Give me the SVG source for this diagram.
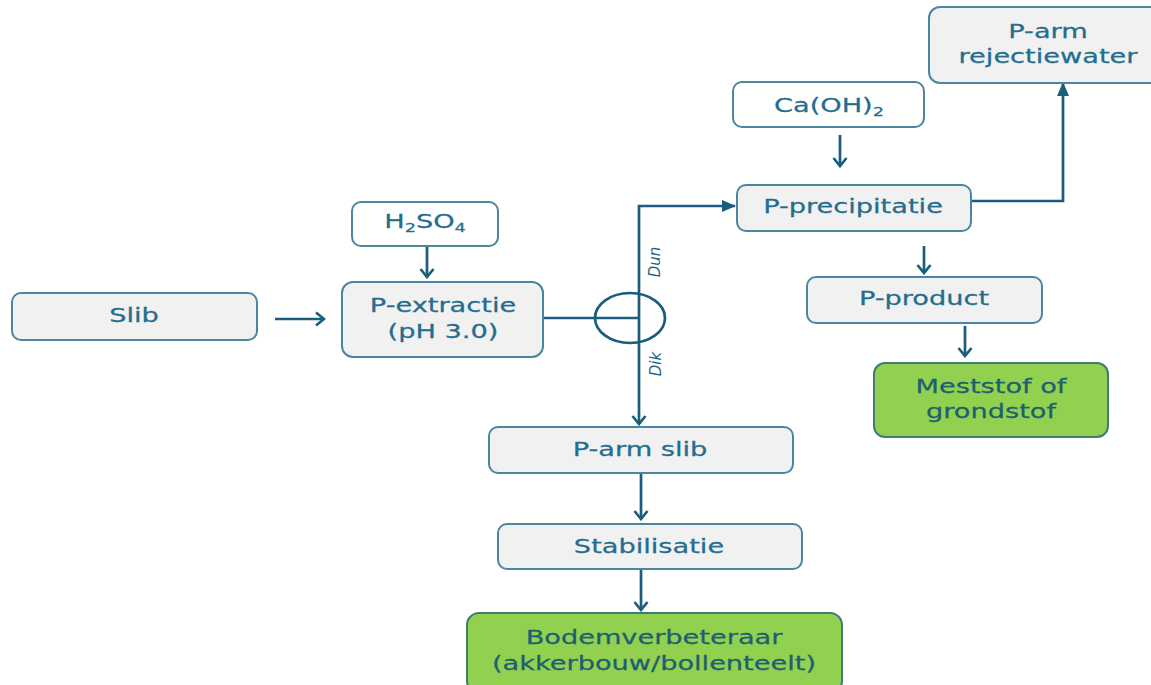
<svg xmlns="http://www.w3.org/2000/svg" width="1151" height="685" viewBox="0 0 1151 685">
<style>
.box{fill:#f1f1f1;stroke:#4a86a0;stroke-width:2}
.wbox{fill:#ffffff;stroke:#4a86a0;stroke-width:2}
.gbox{fill:#92d050;stroke:#3d7d72;stroke-width:2}
.t{font-family:"DejaVu Sans","Liberation Sans",sans-serif;font-size:20px;fill:#236d8f;text-anchor:middle;stroke:#236d8f;stroke-width:0.25}
.tg{font-family:"DejaVu Sans","Liberation Sans",sans-serif;font-size:20px;fill:#1d5f70;text-anchor:middle;stroke:#1d5f70;stroke-width:0.25}
.lab{font-family:"DejaVu Sans","Liberation Sans",sans-serif;font-size:15px;font-style:italic;fill:#1d5f80;text-anchor:middle}
.ln{fill:none;stroke:#1a5d7c;stroke-width:2.7}
.sub{font-size:13px}
</style>
<defs>
<marker id="chev" viewBox="0 0 12 16" markerWidth="12" markerHeight="16" refX="10" refY="8" orient="auto" markerUnits="userSpaceOnUse">
<path d="M2,1.5 L10,8 L2,14.5" fill="none" stroke="#1a5d7c" stroke-width="2.7"/>
</marker>
<marker id="tri" viewBox="0 0 14 12" markerWidth="14" markerHeight="12" refX="13" refY="6" orient="auto" markerUnits="userSpaceOnUse">
<path d="M0,0 L14,6 L0,12 Z" fill="#1a5d7c"/>
</marker>
</defs>

<g id="connectors">
<line class="ln" x1="275" y1="319" x2="324" y2="319" marker-end="url(#chev)"/>
<line class="ln" x1="427" y1="246" x2="427" y2="277" marker-end="url(#chev)"/>
<line class="ln" x1="543" y1="318" x2="639" y2="318"/>
<ellipse class="ln" cx="630" cy="318" rx="35" ry="25"/>
<path class="ln" d="M639,318 V206 H735" marker-end="url(#tri)"/>
<path class="ln" d="M639,318 V424" marker-end="url(#chev)"/>
<line class="ln" x1="840" y1="135" x2="840" y2="166" marker-end="url(#chev)"/>
<path class="ln" d="M971,201 H1063 V83" marker-end="url(#tri)"/>
<line class="ln" x1="924" y1="246" x2="924" y2="273" marker-end="url(#chev)"/>
<line class="ln" x1="965" y1="326" x2="965" y2="356" marker-end="url(#chev)"/>
<line class="ln" x1="641" y1="473" x2="641" y2="519" marker-end="url(#chev)"/>
<line class="ln" x1="641" y1="569" x2="641" y2="610" marker-end="url(#chev)"/>
<text class="lab" transform="translate(660,262) rotate(-90)">Dun</text>
<text class="lab" transform="translate(661,364) rotate(-90)">Dik</text>
</g>

<g id="slib">
<rect class="box" x="12" y="293" width="245" height="47" rx="9"/>
<text class="t" transform="translate(134,322) scale(1.36,1)">Slib</text>
</g>
<g id="h2so4">
<rect class="wbox" x="352" y="202" width="146" height="44" rx="9"/>
<text class="t" transform="translate(425,228) scale(1.36,1)">H<tspan class="sub" dy="4">2</tspan><tspan dy="-4">SO</tspan><tspan class="sub" dy="4">4</tspan></text>
</g>
<g id="p-extractie">
<rect class="box" x="342" y="282" width="201" height="75" rx="11"/>
<text class="t" transform="translate(443,312) scale(1.36,1)">P-extractie</text>
<text class="t" transform="translate(443,338) scale(1.36,1)">(pH 3.0)</text>
</g>
<g id="caoh2">
<rect class="wbox" x="733" y="82" width="191" height="45" rx="9"/>
<text class="t" transform="translate(829,112) scale(1.36,1)">Ca(OH)<tspan class="sub" dy="4">2</tspan></text>
</g>
<g id="p-arm-rejectiewater">
<rect class="box" x="929" y="7" width="240" height="76" rx="11"/>
<text class="t" transform="translate(1048,38) scale(1.36,1)">P-arm</text>
<text class="t" transform="translate(1048,63) scale(1.36,1)">rejectiewater</text>
</g>
<g id="p-precipitatie">
<rect class="box" x="737" y="185" width="234" height="46" rx="9"/>
<text class="t" transform="translate(853,213) scale(1.36,1)">P-precipitatie</text>
</g>
<g id="p-product">
<rect class="box" x="807" y="277" width="235" height="46" rx="9"/>
<text class="t" transform="translate(924,305) scale(1.36,1)">P-product</text>
</g>
<g id="meststof">
<rect class="gbox" x="874" y="363" width="234" height="74" rx="11"/>
<text class="tg" transform="translate(991,393) scale(1.36,1)">Meststof of</text>
<text class="tg" transform="translate(991,418) scale(1.36,1)">grondstof</text>
</g>
<g id="p-arm-slib">
<rect class="box" x="489" y="427" width="304" height="46" rx="9"/>
<text class="t" transform="translate(640,456) scale(1.36,1)">P-arm slib</text>
</g>
<g id="stabilisatie">
<rect class="box" x="498" y="524" width="304" height="45" rx="9"/>
<text class="t" transform="translate(649,553) scale(1.36,1)">Stabilisatie</text>
</g>
<g id="bodemverbeteraar">
<rect class="gbox" x="467" y="613" width="375" height="80" rx="12"/>
<text class="tg" transform="translate(654,644) scale(1.36,1)">Bodemverbeteraar</text>
<text class="tg" transform="translate(654,670) scale(1.36,1)">(akkerbouw/bollenteelt)</text>
</g>
</svg>
